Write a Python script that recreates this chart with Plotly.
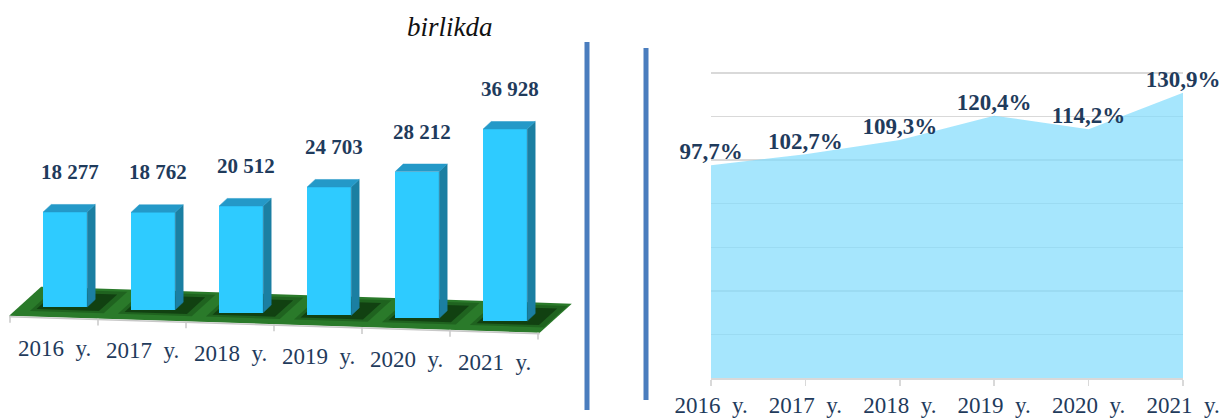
import plotly.graph_objects as go

# ---------------- data ----------------
years = ["2016", "2017", "2018", "2019", "2020", "2021"]
year_labels = [f"{y}\u00a0\u00a0y." for y in years]
volumes = [18277, 18762, 20512, 24703, 28212, 36928]
volume_labels = [f"{v:,}".replace(",", " ") for v in volumes]
growth = [97.7, 102.7, 109.3, 120.4, 114.2, 130.9]
growth_labels = [f"{g:.1f}%".replace(".", ",") for g in growth]
title_text = "birlikda"

# ---------------- style / geometry ----------------
W, H = 1225, 418
TEXT_COLOR = "#1F3B5C"
SERIF = "Liberation Serif"

# left (pseudo 3D bar) panel
L_WIDTH_PX = 600
CAT_PX = 88.0
CAT0_PX = 54.0
Y_PX_PER_UNIT = 5.2 / 1000.0
ZERO_PX = 307.0
TILT = 540.0          # value units the floor drops per category
FLOOR_DX = 0.364      # category units shift for full floor depth
FLOOR_DY = 5580.0     # value units rise for full floor depth
BAR_DEPTH = 0.35      # where bar fronts sit in the floor depth
BAR_W = 0.5
DEPTH_X = 8 / CAT_PX
DEPTH_Y = 7.5 / Y_PX_PER_UNIT
FRONT = "#2ECBFF"
TOP = "#2499C8"
SIDE = "#1B7FA2"
FLOOR = "#2A7A2A"

xa = -CAT0_PX / CAT_PX
xrange_l = [xa, xa + L_WIDTH_PX / CAT_PX]
yrange_l = [-(H - ZERO_PX) / Y_PX_PER_UNIT, ZERO_PX / Y_PX_PER_UNIT]

n = len(years)


def front_y(x):
    return -TILT * x - BAR_DEPTH * FLOOR_DY


def floor_pt(x, d):
    return (x + d * FLOOR_DX, front_y(x) + d * FLOOR_DY)


def path(points):
    return "M " + " L ".join(f"{px},{py}" for px, py in points) + " Z"


fig = go.Figure()
shapes = []
annotations = []

# floor
fl, fr = -0.5 - 0.01, n - 0.5 + 0.02
floor_poly = [floor_pt(fl, 0), floor_pt(fr, 0), floor_pt(fr, 1), floor_pt(fl, 1)]
shapes.append(dict(type="path", xref="x", yref="y", path=path(floor_poly),
                   fillcolor=FLOOR, line=dict(width=0), layer="below"))

bar_x = [i + BAR_DEPTH * FLOOR_DX for i in range(n)]
bases = [front_y(i) + BAR_DEPTH * FLOOR_DY for i in range(n)]
tops = [b + v for b, v in zip(bases, volumes)]

# shadows on floor
for i in range(n):
    for (x0, x1, d0, d1, col) in [
        (i - 0.34, i + 0.50, 0.18, 0.92, "rgba(0,30,0,0.25)"),
        (i - 0.29, i + 0.42, 0.25, 0.82, "rgba(0,25,0,0.45)"),
    ]:
        poly = [floor_pt(x0, d0), floor_pt(x1, d0), floor_pt(x1, d1), floor_pt(x0, d1)]
        shapes.append(dict(type="path", xref="x", yref="y", path=path(poly),
                           fillcolor=col, line=dict(width=0), layer="below"))

# front faces
fig.add_trace(go.Bar(x=bar_x, y=volumes, base=bases, width=BAR_W,
                     marker=dict(color=FRONT, line=dict(width=0)),
                     xaxis="x", yaxis="y", showlegend=False, hoverinfo="skip"))

# side and top faces
for i in range(n):
    xl, xr = bar_x[i] - BAR_W / 2, bar_x[i] + BAR_W / 2
    b, t = bases[i], tops[i]
    side = [(xr, b), (xr, t), (xr + DEPTH_X, t + DEPTH_Y), (xr + DEPTH_X, b + DEPTH_Y), (xr, b)]
    top = [(xl, t), (xr, t), (xr + DEPTH_X, t + DEPTH_Y), (xl + DEPTH_X, t + DEPTH_Y), (xl, t)]
    for poly, col in [(side, SIDE), (top, TOP)]:
        fig.add_trace(go.Scatter(x=[p[0] for p in poly], y=[p[1] for p in poly],
                                 mode="lines", fill="toself", fillcolor=col,
                                 line=dict(width=0.5, color=col),
                                 xaxis="x", yaxis="y", showlegend=False, hoverinfo="skip"))

# axis line and ticks on the floor front edge
tick_len = 7 / Y_PX_PER_UNIT
ax_x = [fl, fr]
ax_y = [front_y(fl) - 1 / Y_PX_PER_UNIT, front_y(fr) - 1 / Y_PX_PER_UNIT]
fig.add_trace(go.Scatter(x=ax_x, y=ax_y, mode="lines", line=dict(color="#C8C8C8", width=1.5),
                         xaxis="x", yaxis="y", showlegend=False, hoverinfo="skip"))
tx, ty = [], []
for k in range(n + 1):
    xb = k - 0.5
    tx += [xb, xb, None]
    ty += [front_y(xb), front_y(xb) - tick_len, None]
fig.add_trace(go.Scatter(x=tx, y=ty, mode="lines", line=dict(color="#C8C8C8", width=1.5),
                         xaxis="x", yaxis="y", showlegend=False, hoverinfo="skip"))

# category labels (follow the tilted floor)
for i in range(n):
    annotations.append(dict(x=i, y=front_y(i), xref="x", yref="y", text=year_labels[i],
                            showarrow=False, yshift=-31, xanchor="center", yanchor="middle",
                            font=dict(family=SERIF, size=23, color=TEXT_COLOR)))
# value labels
for i in range(n):
    annotations.append(dict(x=bar_x[i] + 0.05, y=tops[i], xref="x", yref="y",
                            text=f"<b>{volume_labels[i]}</b>", showarrow=False, yshift=40,
                            xanchor="center", yanchor="middle",
                            font=dict(family=SERIF, size=21, color=TEXT_COLOR)))

# ---------------- right: area chart ----------------
R_X0, R_X1 = 711, 1183
R_Y0 = 378
R_PX_PER_PCT = (378 - 73) / 140.0
R_TOP = 142.0
fig.add_trace(go.Scatter(x=list(range(n)), y=growth, mode="lines+text", fill="tozeroy",
                         fillcolor="rgba(128,219,252,0.7)",
                         line=dict(width=0, color="rgba(0,0,0,0)"),
                         text=growth_labels, textposition="top center",
                         textfont=dict(family=SERIF, size=23, color=TEXT_COLOR, weight="bold"),
                         cliponaxis=False, xaxis="x2", yaxis="y2",
                         showlegend=False, hoverinfo="skip"))

# title
annotations.append(dict(x=449.5 / W, y=1 - 27 / H, xref="paper", yref="paper",
                        text=f"<i>{title_text}</i>", showarrow=False,
                        xanchor="center", yanchor="middle",
                        font=dict(family=SERIF, size=27, color="#111111", style="italic")))

# separators
for xp, y0p, y1p in [(587, 42, 410), (646, 48, 400)]:
    shapes.append(dict(type="line", xref="paper", yref="paper",
                       x0=xp / W, x1=xp / W, y0=1 - y0p / H, y1=1 - y1p / H,
                       line=dict(color="#4A7DBE", width=5)))

fig.update_layout(
    template="none",
    width=W, height=H, margin=dict(l=0, r=0, t=0, b=0, pad=0, autoexpand=False),
    paper_bgcolor="white", plot_bgcolor="rgba(0,0,0,0)",
    showlegend=False, bargap=0,
    shapes=shapes, annotations=annotations,
    xaxis=dict(domain=[0, L_WIDTH_PX / W], range=xrange_l, visible=False,
               fixedrange=True, automargin=False),
    yaxis=dict(domain=[0, 1], range=yrange_l, visible=False,
               fixedrange=True, automargin=False),
    xaxis2=dict(domain=[R_X0 / W, R_X1 / W], range=[0, n - 1], anchor="y2",
                tickvals=list(range(n)), ticktext=year_labels,
                ticks="outside", ticklen=6, tickwidth=1.5, tickcolor="#D9D9D9",
                showline=True, linecolor="#D9D9D9", linewidth=1.5, showgrid=False,
                zeroline=False, tickfont=dict(family=SERIF, size=23, color=TEXT_COLOR),
                fixedrange=True, automargin=False),
    yaxis2=dict(domain=[(H - R_Y0) / H, (H - (R_Y0 - R_TOP * R_PX_PER_PCT)) / H],
                range=[0, R_TOP], tick0=0, dtick=20, anchor="x2",
                showgrid=True, gridcolor="#D9D9D9", gridwidth=1.5, showticklabels=False,
                zeroline=False, showline=False, ticks="", fixedrange=True, automargin=False),
)

fig.write_html("out.html", config={"displayModeBar": False, "staticPlot": True},
               post_script="document.body.style.margin='0';document.body.style.overflow='hidden';")
